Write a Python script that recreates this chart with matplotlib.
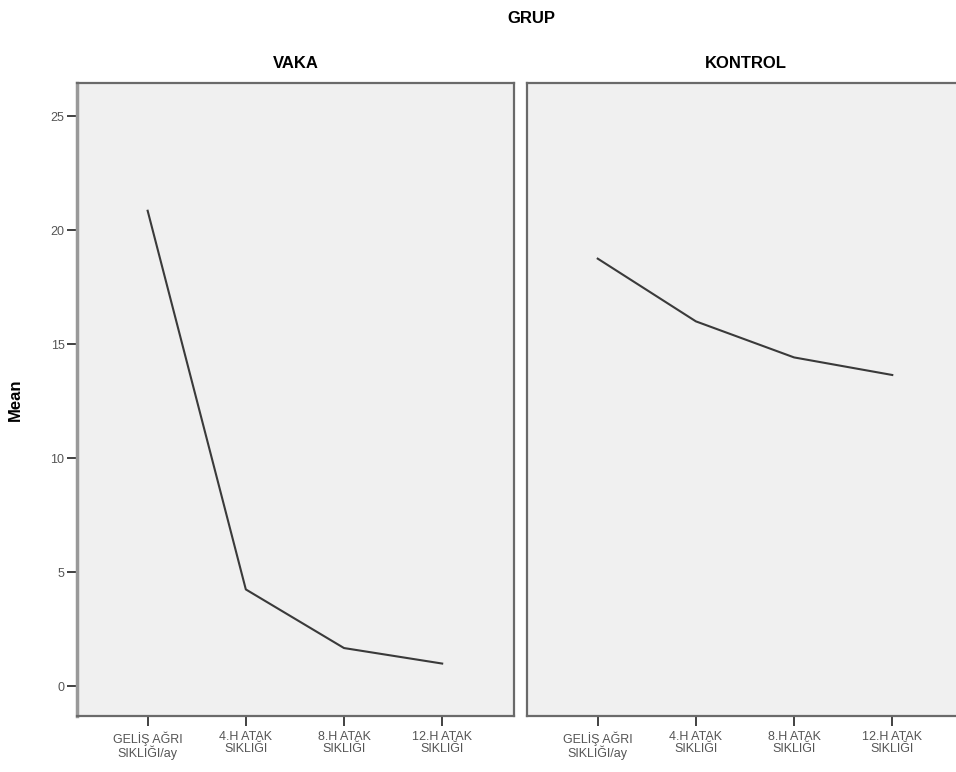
import matplotlib
matplotlib.use("Agg")
import matplotlib.pyplot as plt

plt.rcParams['font.family'] = ['Liberation Sans', 'DejaVu Sans']

# kategoriler (x ekseni)
categories = ['GELİŞ AĞRI\nSIKLIĞI/ay', '4.H ATAK\nSIKLIĞI', '8.H ATAK\nSIKLIĞI', '12.H ATAK\nSIKLIĞI']
# grup ortalamaları
vaka_means = [20.85, 4.25, 1.68, 1.0]
kontrol_means = [18.75, 16.0, 14.42, 13.65]
panel_titles = ['VAKA', 'KONTROL']
y_ticks = [0, 5, 10, 15, 20, 25]

fig = plt.figure(figsize=(9.56, 7.72), dpi=100)
ax1 = fig.add_axes([0.0805, 0.0725, 0.457, 0.820])
ax2 = fig.add_axes([0.5513, 0.0725, 0.457, 0.820])

x = list(range(len(categories)))
for ax, vals, title in zip([ax1, ax2], [vaka_means, kontrol_means], panel_titles):
    ax.set_facecolor('#f0f0f0')
    ax.plot(x, vals, color='#3a3a3a', linewidth=1.5)
    ax.set_xlim(-0.72, 3.73)
    ax.set_ylim(-1.3, 26.45)
    ax.set_xticks(x)
    ax.set_xticklabels(categories, fontsize=9, color='#555555', linespacing=1.0)
    ax.set_title(title, fontsize=12, fontweight='bold', pad=11)
    for s in ax.spines.values():
        s.set_color('#6a6a6a')
        s.set_linewidth(1.6)
    ax.tick_params(axis='x', length=7, width=1.3, color='#333333', pad=4)

ax1.set_yticks(y_ticks)
ax1.set_yticklabels([str(v) for v in y_ticks], fontsize=9, color='#555555')
ax1.tick_params(axis='y', length=7, width=1.3, color='#333333', pad=2)
ax1.spines['left'].set_color('#999999')
ax1.spines['left'].set_linewidth(2.5)
ax1.set_ylabel('Mean', fontsize=12, fontweight='bold', labelpad=20)
ax2.set_yticks([])

fig.text(0.556, 0.976, 'GRUP', ha='center', va='center', fontsize=12, fontweight='bold')

fig.savefig('out.png', dpi=100)
